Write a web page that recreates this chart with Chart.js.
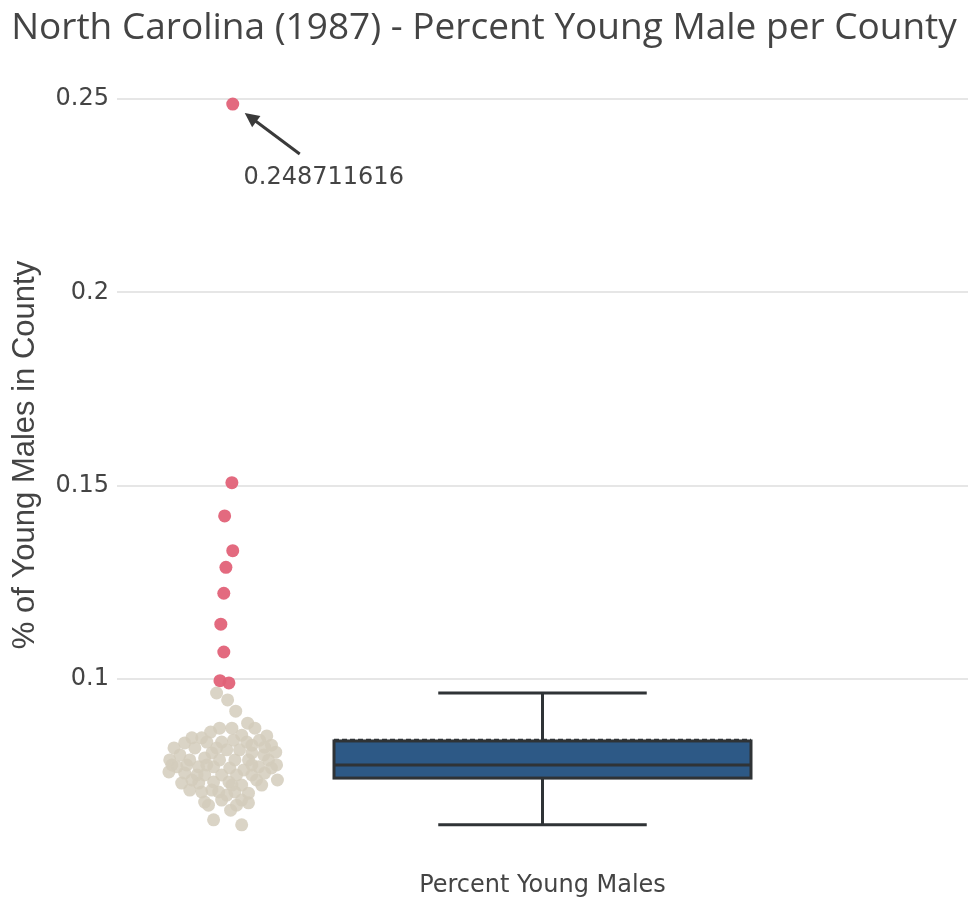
<!DOCTYPE html>
<html lang="en">
<head>
    <meta charset="UTF-8">
    <title>North Carolina (1987) - Percent Young Male per County</title>
    <script src="https://cdn.jsdelivr.net/npm/chart.js"></script>
    <style>
        html, body { margin: 0; padding: 0; background: #fff; overflow: hidden; }
        canvas { display: block; }
    </style>
</head>
<body>
    <canvas id="boxChart" width="968" height="897"></canvas>
    <script>
        // values
        const categoryLabel = 'Percent Young Males';
        const yTicks = [0.1, 0.15, 0.2, 0.25];

        // counties inside the whiskers (value, jitter offset)
        const clusterValues = [
            0.0964, 0.0946, 0.0917, 0.0886, 0.0873, 0.0873, 0.0863, 0.0848, 0.0837, 0.0842,
            0.0835, 0.0842, 0.0829, 0.0824, 0.0822, 0.0817, 0.0817, 0.0804, 0.0809, 0.0809,
            0.0804, 0.0791, 0.0791, 0.0796, 0.0791, 0.0791, 0.0791, 0.0791, 0.0773, 0.0773,
            0.0773, 0.0770, 0.0765, 0.0773, 0.0760, 0.0757, 0.0752, 0.0752, 0.0752, 0.0752,
            0.0757, 0.0731, 0.0731, 0.0734, 0.0734, 0.0726, 0.0726, 0.0708, 0.0708, 0.0708,
            0.0705, 0.0682, 0.0687, 0.0687, 0.0674, 0.0680, 0.0636, 0.0623, 0.0811, 0.0739,
            0.0770, 0.0822, 0.0873, 0.0853, 0.0837, 0.0713, 0.0848, 0.0855, 0.0829, 0.0778,
            0.0778, 0.0778, 0.0752, 0.0726, 0.0739, 0.0713, 0.0700, 0.0739, 0.0778, 0.0778,
            0.0822, 0.0837, 0.0661, 0.0674
        ];
        const clusterJitter = [
            -0.766, -0.740, -0.721, -0.693, -0.676, -0.759, -0.780, -0.801, -0.754, -0.726,
            -0.841, -0.665, -0.683, -0.653, -0.817, -0.742, -0.712, -0.852, -0.777, -0.683,
            -0.655, -0.876, -0.829, -0.794, -0.759, -0.723, -0.691, -0.644, -0.859, -0.808,
            -0.773, -0.735, -0.702, -0.667, -0.878, -0.841, -0.794, -0.754, -0.719, -0.683,
            -0.653, -0.848, -0.808, -0.773, -0.737, -0.707, -0.660, -0.801, -0.761, -0.723,
            -0.691, -0.794, -0.754, -0.707, -0.785, -0.691, -0.773, -0.707, -0.627, -0.623,
            -0.637, -0.866, -0.730, -0.648, -0.789, -0.829, -0.824, -0.707, -0.637, -0.836,
            -0.789, -0.683, -0.812, -0.730, -0.672, -0.777, -0.742, -0.824, -0.871, -0.625,
            -0.766, -0.695, -0.733, -0.719
        ];

        // outlying counties
        const outlierValues = [0.248711616, 0.1508, 0.1422, 0.1332, 0.1289, 0.1222, 0.1142, 0.1070, 0.0996, 0.0990];
        const outlierJitter = [-0.728, -0.730, -0.747, -0.728, -0.744, -0.749, -0.756, -0.749, -0.758, -0.737];

        // box summary
        const boxQ1 = 0.0744;
        const boxMedian = 0.0778;
        const boxQ3 = 0.0840;
        const boxMean = 0.0843;
        const whiskerLow = 0.0623;
        const whiskerHigh = 0.0964;

        const annotatedValue = outlierValues[0];

        const boxPlugin = {
            id: 'boxPlugin',
            beforeDatasetsDraw(chart) {
                const ctx = chart.ctx;
                const x = chart.scales.x;
                const y = chart.scales.y;
                const left = x.getPixelForValue(-0.49);
                const right = x.getPixelForValue(0.49);
                const mid = x.getPixelForValue(0);
                const capL = x.getPixelForValue(-0.245);
                const capR = x.getPixelForValue(0.245);
                const yQ1 = y.getPixelForValue(boxQ1);
                const yQ3 = y.getPixelForValue(boxQ3);
                const yMed = y.getPixelForValue(boxMedian);
                const yLo = y.getPixelForValue(whiskerLow);
                const yHi = y.getPixelForValue(whiskerHigh);
                const yMean = y.getPixelForValue(boxMean);

                ctx.save();
                ctx.strokeStyle = '#2f3336';
                ctx.lineWidth = 3;
                // whiskers
                ctx.beginPath();
                ctx.moveTo(mid, yQ3); ctx.lineTo(mid, yHi);
                ctx.moveTo(capL, yHi); ctx.lineTo(capR, yHi);
                ctx.moveTo(mid, yQ1); ctx.lineTo(mid, yLo);
                ctx.moveTo(capL, yLo); ctx.lineTo(capR, yLo);
                ctx.stroke();
                // box
                ctx.fillStyle = '#2d5986';
                ctx.fillRect(left, yQ3, right - left, yQ1 - yQ3);
                ctx.strokeRect(left, yQ3, right - left, yQ1 - yQ3);
                // median
                ctx.beginPath();
                ctx.moveTo(left, yMed); ctx.lineTo(right, yMed);
                ctx.stroke();
                // mean (dashed)
                ctx.setLineDash([5, 3]);
                ctx.lineWidth = 2;
                ctx.beginPath();
                ctx.moveTo(left, yMean); ctx.lineTo(right, yMean);
                ctx.stroke();
                ctx.restore();
            }
        };

        const arrowPlugin = {
            id: 'arrowPlugin',
            afterDatasetsDraw(chart) {
                const ctx = chart.ctx;
                const px = chart.scales.x.getPixelForValue(outlierJitter[0]);
                const py = chart.scales.y.getPixelForValue(annotatedValue);
                const tipX = px + 12, tipY = py + 9;
                const tailX = px + 67, tailY = py + 50;
                const ang = Math.atan2(tipY - tailY, tipX - tailX);
                ctx.save();
                ctx.strokeStyle = '#3a3a3a';
                ctx.fillStyle = '#3a3a3a';
                ctx.lineWidth = 3;
                ctx.beginPath();
                ctx.moveTo(tailX, tailY);
                ctx.lineTo(tipX - 8 * Math.cos(ang), tipY - 8 * Math.sin(ang));
                ctx.stroke();
                ctx.beginPath();
                ctx.moveTo(tipX, tipY);
                ctx.lineTo(tipX - 16 * Math.cos(ang - 0.45), tipY - 16 * Math.sin(ang - 0.45));
                ctx.lineTo(tipX - 16 * Math.cos(ang + 0.45), tipY - 16 * Math.sin(ang + 0.45));
                ctx.closePath();
                ctx.fill();
                ctx.font = '24px "DejaVu Sans"';
                ctx.fillStyle = '#444';
                ctx.textAlign = 'center';
                ctx.textBaseline = 'middle';
                ctx.fillText(String(annotatedValue), tailX + 24, tailY + 24);
                ctx.restore();
            }
        };

        const ctx = document.getElementById('boxChart').getContext('2d');
        new Chart(ctx, {
            type: 'scatter',
            data: {
                datasets: [
                    {
                        label: 'counties',
                        data: clusterValues.map((v, i) => ({ x: clusterJitter[i], y: v })),
                        backgroundColor: 'rgba(212, 204, 188, 0.85)',
                        borderWidth: 0,
                        pointRadius: 6.5
                    },
                    {
                        label: 'outliers',
                        data: outlierValues.map((v, i) => ({ x: outlierJitter[i], y: v })),
                        backgroundColor: 'rgba(226, 98, 120, 0.95)',
                        borderWidth: 0,
                        pointRadius: 6.5
                    }
                ]
            },
            options: {
                responsive: false,
                animation: false,
                layout: { autoPadding: false, padding: 0 },
                plugins: {
                    legend: { display: false },
                    tooltip: { enabled: false },
                    title: {
                        display: true,
                        text: 'North Carolina (1987) - Percent Young Male per County',
                        color: '#444',
                        font: { family: 'Open Sans', size: 37, weight: 'normal' },
                        padding: { top: 6, bottom: 9.6 }
                    }
                },
                scales: {
                    x: {
                        type: 'linear',
                        min: -1,
                        max: 1,
                        grid: { display: false, drawTicks: false },
                        border: { display: false },
                        ticks: { display: false },
                        title: {
                            display: true,
                            text: categoryLabel,
                            color: '#444',
                            font: { family: 'DejaVu Sans', size: 24 },
                            padding: { top: 18, bottom: -3 }
                        },
                        afterFit(scale) {
                            scale.height = 47;
                            scale.paddingLeft = 0;
                            scale.paddingRight = 0;
                        }
                    },
                    y: {
                        min: 0.0558,
                        max: 0.2601,
                        grid: { color: '#e6e6e6', lineWidth: 2, drawTicks: false },
                        border: { display: false },
                        afterBuildTicks(scale) {
                            scale.ticks = yTicks.map(v => ({ value: v }));
                        },
                        ticks: {
                            color: '#444',
                            padding: 8,
                            font: { family: 'DejaVu Sans', size: 24 },
                            callback: v => String(+v.toFixed(2))
                        },
                        title: {
                            display: true,
                            text: '% of Young Males in County',
                            color: '#444',
                            font: { family: 'Liberation Sans', size: 31 },
                            padding: { top: 7, bottom: 0 }
                        },
                        afterFit(scale) {
                            scale.width = 117;
                            scale.paddingTop = 0;
                            scale.paddingBottom = 0;
                        }
                    }
                }
            },
            plugins: [boxPlugin, arrowPlugin]
        });
    </script>
</body>
</html>
